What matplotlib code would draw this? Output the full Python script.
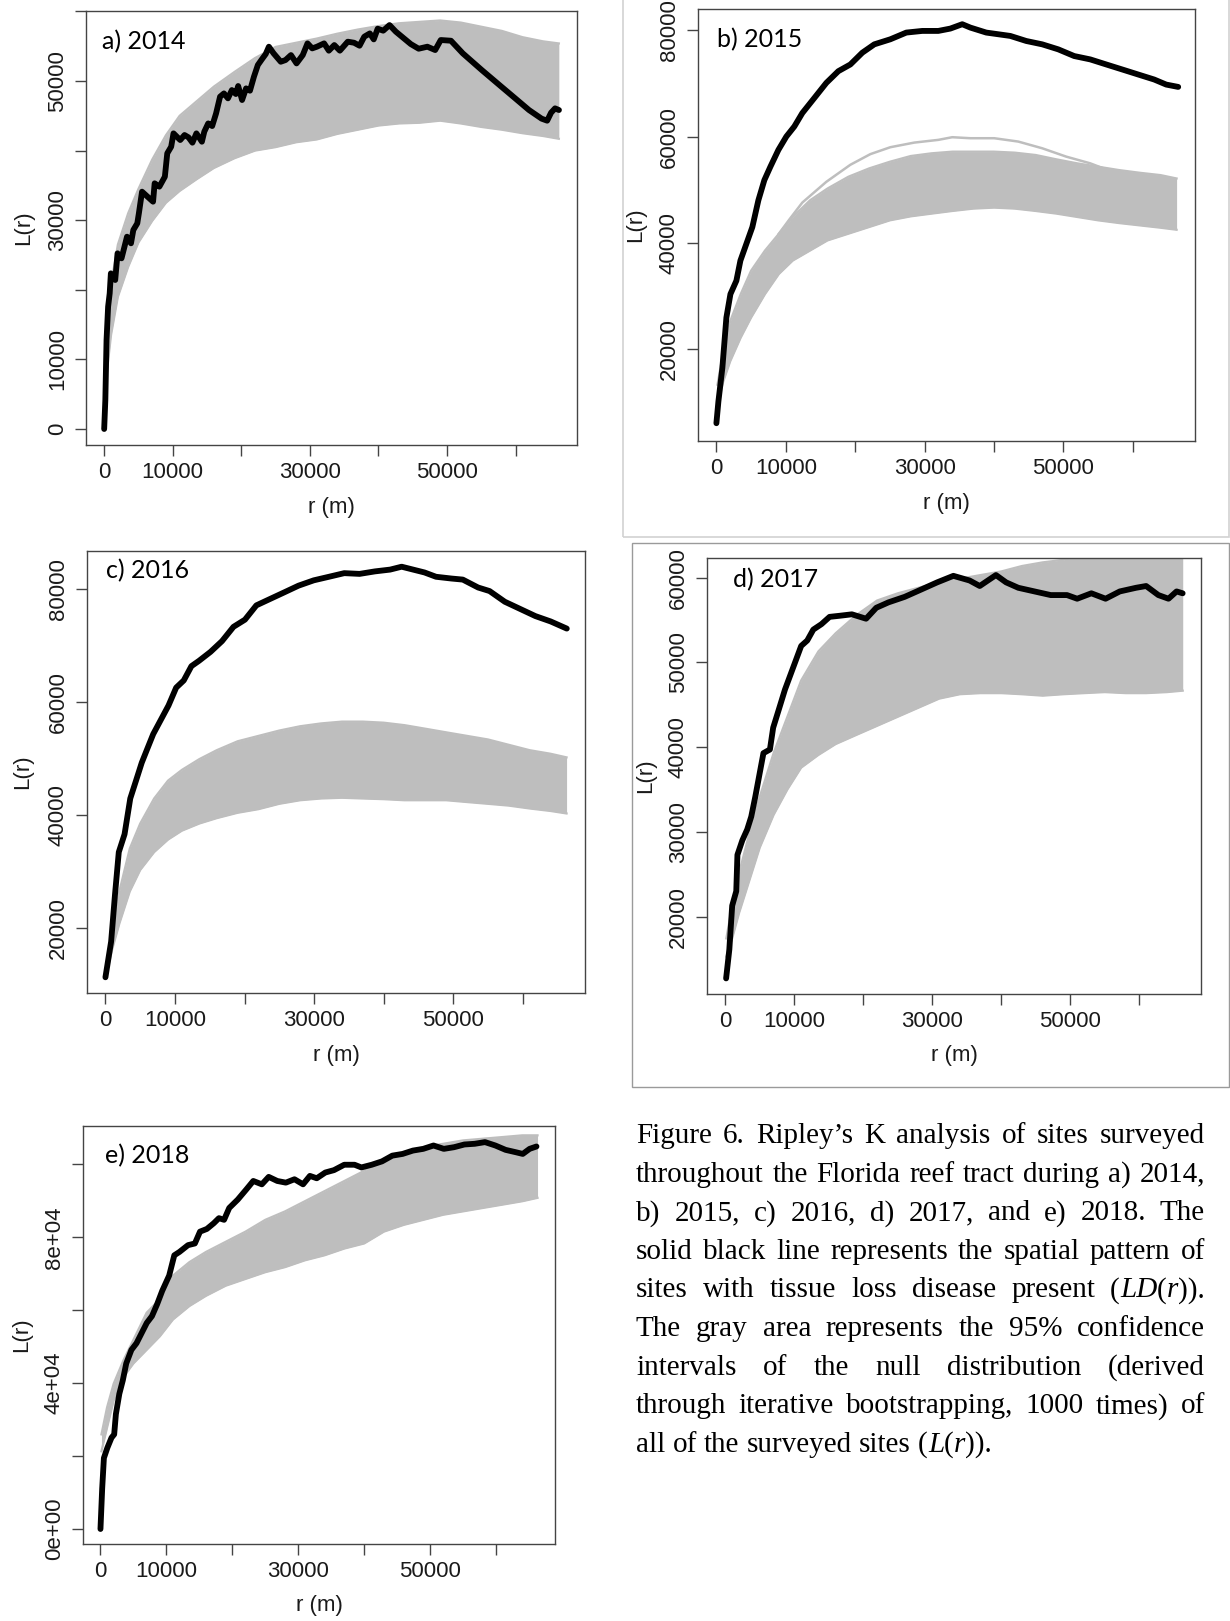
import matplotlib
matplotlib.use("Agg")
import matplotlib.pyplot as plt
from matplotlib.patches import Rectangle

W, H = 1230, 1621

# ---------------- data (r in metres, L(r)) ----------------
GRID = [150, 1000, 2000, 3500, 5000, 7000, 9000, 11000, 13500, 16000, 19000, 22000,
        25000, 28000, 31000, 34000, 37000, 40000, 43000, 46000, 49000, 52000, 55000,
        58000, 61000, 64000, 66300]

# panel a) 2014
A_UPPER = [13000, 20800, 26500, 31000, 34500, 38700, 42200, 45000, 47100, 49200, 51300, 53300,
           54900, 55500, 56100, 56800, 57400, 57900, 58300, 58500, 58700, 58400, 57800, 57200,
           56300, 55700, 55400]
A_LOWER = [6000, 13500, 19000, 23300, 26800, 29900, 32500, 34200, 35900, 37500, 38900, 40000,
           40500, 41200, 41600, 42400, 43000, 43600, 43900, 44000, 44300, 43900, 43400, 43000,
           42500, 42100, 41700]
A_R = [0, 170, 345, 575, 805, 977, 1610, 1950, 2530, 3330, 3910, 4250, 4830, 5060, 5520, 6320,
       7130, 7360, 8050, 8850, 9200, 9770, 10110, 11090, 11720, 12300, 12870, 13450, 14250, 14600,
       15170, 15750, 16320, 16900, 17470, 18050, 18620, 19200, 19540, 20110, 20690, 21260, 21840,
       22410, 22990, 23560, 24020, 24710, 25750, 26440, 27240, 28050, 28960, 29650, 30340, 31030,
       32070, 32760, 33560, 34370, 35520, 36440, 37240, 37930, 38740, 39310, 39880, 40690, 41610,
       42530, 44710, 45860, 47130, 48270, 49080, 50570, 52300, 55060, 57930, 59770, 61950, 63790,
       64600, 65170, 65750, 66320]
A_L = [0, 4170, 12790, 17580, 19490, 22360, 21410, 25240, 24520, 27630, 26680, 28590, 29550, 30980,
       34100, 33380, 32660, 35300, 34820, 36250, 39610, 40560, 42480, 41520, 42240, 41900, 41140,
       42480, 41280, 42720, 43910, 43530, 45350, 47750, 48220, 47510, 48700, 48130, 49280, 47270,
       48940, 48610, 50620, 52300, 53110, 53880, 54930, 53970, 52770, 53010, 53730, 52530, 53730,
       55410, 54690, 54930, 55410, 54360, 55170, 54360, 55650, 55500, 55070, 56370, 56840, 55980,
       57520, 57230, 58040, 57090, 55310, 54640, 54930, 54450, 55890, 55790, 53970, 51580, 49180,
       47650, 45830, 44590, 44300, 45450, 46070, 45830]

# panel b) 2015
B_UPPER = [13380, 19690, 25360, 30400, 34810, 38590, 41740, 44890, 48040, 50240, 52450, 54020,
           55280, 56350, 56860, 57170, 57170, 57170, 56980, 56540, 55720, 54970, 54340, 53710,
           53200, 52760, 52130]
B_LOWER = [9610, 14020, 17800, 22210, 25990, 30400, 34180, 36700, 38590, 40480, 41740, 43000,
           44260, 45010, 45520, 46020, 46460, 46650, 46460, 46020, 45520, 44890, 44260, 43750,
           43310, 42870, 42490]
B_OUT_R = [9000, 10500, 12380, 15840, 19300, 22180, 25060, 28510, 31970, 33980, 36580, 40030,
           43490, 46940, 50400, 53860, 56000]
B_OUT_L = [41740, 44400, 47600, 51500, 54700, 56700, 58000, 58870, 59380, 59880, 59690, 59690,
           59060, 57800, 56230, 54970, 53900]
B_R = [0, 290, 860, 1440, 2020, 2880, 3460, 4320, 5180, 6050, 6910, 7780, 8930, 10080, 11230,
       12380, 14110, 15840, 17570, 19300, 21020, 22750, 25060, 27360, 29660, 31970, 33700, 35420,
       36580, 38880, 42340, 44640, 46940, 49250, 51550, 53860, 56160, 58460, 60770, 63070, 64800,
       66530]
B_L = [6140, 10240, 16540, 25990, 30400, 32920, 36700, 39850, 43000, 48040, 51820, 54340, 57490,
       60010, 61900, 64420, 67250, 70090, 72290, 73550, 75760, 77330, 78280, 79540, 79850, 79850,
       80290, 81110, 80480, 79540, 78910, 77960, 77330, 76390, 75130, 74500, 73550, 72610, 71660,
       70720, 69770, 69330]

# panel c) 2016
C_UPPER = [13230, 19560, 26520, 34110, 38540, 42970, 46140, 48040, 49940, 51520, 53100, 54050,
           55000, 55760, 56260, 56580, 56580, 56390, 55950, 55320, 54680, 54050, 53420, 52470,
           51520, 50890, 50250]
C_LOWER = [11960, 16390, 20820, 26520, 30320, 33480, 35700, 37280, 38540, 39490, 40440, 41080,
           42030, 42660, 42970, 43100, 42970, 42850, 42660, 42660, 42660, 42340, 42030, 41710,
           41200, 40760, 40320]
C_R = [0, 820, 1370, 1920, 2750, 3570, 4400, 5220, 6040, 6870, 7970, 9070, 10170, 11260, 12360,
       13460, 15110, 16760, 18410, 20060, 21700, 23350, 25550, 27750, 29950, 32140, 34340, 36540,
       38740, 40940, 42590, 44230, 45880, 47530, 49730, 51380, 53580, 55230, 57420, 59620, 61820,
       64020, 66330]
C_L = [11330, 17660, 25890, 33480, 36650, 42970, 46140, 49300, 51830, 54370, 56900, 59430, 62590,
       63860, 66390, 67340, 68920, 70820, 73350, 74620, 77150, 78100, 79360, 80630, 81580, 82210,
       82850, 82720, 83160, 83480, 83990, 83480, 82970, 82210, 81900, 81710, 80310, 79680, 77790,
       76520, 75250, 74300, 73040]

# panel d) 2017
D_UPPER = [17430, 21290, 25140, 29860, 34150, 39290, 43580, 47870, 51300, 53440, 55580, 57300,
           58150, 58800, 59440, 59870, 60300, 60730, 61370, 61800, 62100, 62600, 63000, 63400,
           63700, 64000, 64200]
D_LOWER = [15280, 17430, 20430, 24290, 28150, 32000, 35000, 37580, 39080, 40360, 41440, 42510,
           43580, 44650, 45720, 46240, 46370, 46370, 46240, 46070, 46240, 46370, 46490, 46370,
           46370, 46490, 46660]
D_R = [120, 590, 1000, 1590, 1760, 2470, 3180, 3760, 4350, 4940, 5530, 6470, 6940, 7760, 8650,
       9530, 10120, 11000, 11880, 12760, 13940, 15120, 16590, 18350, 20410, 21880, 23650, 26000,
       28350, 30710, 33060, 35410, 36880, 38060, 39230, 40700, 42470, 44820, 47170, 49530, 51000,
       53060, 55120, 57180, 59530, 61000, 62770, 64240, 65410, 66290]
D_L = [12710, 16140, 21290, 23000, 27290, 29000, 30290, 31790, 34150, 36720, 39290, 39720, 42290,
       44440, 46790, 48720, 50010, 51940, 52580, 53870, 54510, 55370, 55500, 55670, 55150, 56440,
       57080, 57730, 58580, 59440, 60210, 59660, 59010, 59660, 60300, 59440, 58800, 58370, 57940,
       57940, 57510, 58150, 57510, 58370, 58800, 59010, 57940, 57510, 58370, 58150]

# panel e) 2018
E_UPPER = [25960, 33370, 39860, 46350, 51910, 59330, 63040, 69530, 73230, 76010, 78800, 81580,
           84820, 87140, 89920, 92700, 95480, 98260, 101510, 103360, 104750, 105680, 106610,
           107070, 107530, 108000, 108000]
E_LOWER = [21320, 27810, 35230, 41720, 45420, 49130, 52840, 57470, 61180, 63960, 66740, 68600,
           70450, 71840, 73700, 75090, 76940, 78330, 81580, 83430, 84820, 86210, 87140, 88070,
           88990, 89920, 90850]
E_R = [0, 260, 520, 1040, 1670, 2080, 2340, 2860, 3390, 3910, 4690, 5470, 6250, 7030, 7810, 8590,
       9370, 10420, 11200, 11980, 13280, 14320, 15100, 16140, 17190, 17970, 18750, 19530, 20830,
       22130, 23180, 24480, 25520, 26820, 28120, 29430, 30730, 31770, 32810, 34110, 35420, 36980,
       38540, 39580, 41150, 42710, 44270, 45830, 47400, 48960, 50520, 52080, 53650, 55210, 56770,
       58330, 59900, 61460, 63020, 64060, 65100, 66140]
E_L = [0, 11120, 19470, 22250, 25030, 25960, 31520, 37080, 40790, 45420, 49130, 50980, 53770,
       56550, 58400, 61650, 65350, 69530, 75090, 76010, 77870, 78330, 81580, 82320, 83890, 85280,
       84820, 88070, 90380, 93170, 95480, 94560, 96600, 95480, 95020, 95950, 94560, 96870, 96220,
       97800, 98450, 99930, 99930, 99190, 99930, 100860, 102430, 102900, 103820, 104290, 105210,
       104290, 104750, 105490, 105680, 106140, 105210, 104010, 103360, 102900, 104290, 104940]

TITLES = ["a) 2014", "b) 2015", "c) 2016", "d) 2017", "e) 2018"]
X_TICKS = [0, 10000, 20000, 30000, 40000, 50000, 60000]
X_TICKLABELS = ["0", "10000", "", "30000", "", "50000", ""]

CAPTION = [
    "Figure 6. Ripley’s K analysis of sites surveyed",
    "throughout the Florida reef tract during a) 2014,",
    "b) 2015, c) 2016, d) 2017, and e) 2018. The",
    "solid black line represents the spatial pattern of",
    "sites with tissue loss disease present (*LD*(*r*)).",
    "The gray area represents the 95% confidence",
    "intervals of the null distribution (derived",
    "through iterative bootstrapping, 1000 times) of",
    "all of the surveyed sites (*L*(*r*)).",
]

# ---------------- figure ----------------
fig = plt.figure(figsize=(W / 100, H / 100), dpi=100)
fig.patch.set_facecolor("white")

SANS = "Liberation Sans"
GRAY = "#BEBEBE"
AXC = "#444444"
TXT = "#1a1a1a"
FS = 16


def add_box(l, r, t, b):
    return fig.add_axes([l / W, 1 - b / H, (r - l) / W, (b - t) / H])


# frames around b and d
fig.add_artist(Rectangle((623 / W, 1 - 537 / H), (1229 - 623) / W, 540 / H,
                         transform=fig.transFigure, fill=False, ec="#D2D2D2", lw=1.2))
fig.add_artist(Rectangle((632 / W, 1 - 1087 / H), (1229 - 632) / W, (1087 - 543) / H,
                         transform=fig.transFigure, fill=False, ec="#9A9A9A", lw=1.0))

panels = [
    dict(box=(86, 577, 11, 445), ylim=(-2300, 60060),
         yt=[0, 10000, 20000, 30000, 40000, 50000, 60000],
         yl=["0", "10000", "", "30000", "", "50000", ""],
         tp=(0.033, 0.929), up=A_UPPER, lo=A_LOWER, r=A_R, L=A_L, ylab_x=24),
    dict(box=(698, 1195, 9, 441), ylim=(2800, 83970),
         yt=[20000, 40000, 60000, 80000], yl=["20000", "40000", "60000", "80000"],
         tp=(0.038, 0.928), up=B_UPPER, lo=B_LOWER, r=B_R, L=B_L, ylab_x=636),
    dict(box=(87, 585, 551, 993), ylim=(8550, 86770),
         yt=[20000, 40000, 60000, 80000], yl=["20000", "40000", "60000", "80000"],
         tp=(0.038, 0.955), up=C_UPPER, lo=C_LOWER, r=C_R, L=C_L, ylab_x=23),
    dict(box=(707, 1201, 558, 994), ylim=(10870, 62315),
         yt=[20000, 30000, 40000, 50000, 60000],
         yl=["20000", "30000", "40000", "50000", "60000"],
         tp=(0.053, 0.95), up=D_UPPER, lo=D_LOWER, r=D_R, L=D_L, ylab_x=646),
    dict(box=(83, 555, 1126, 1544), ylim=(-4115, 110560),
         yt=[0, 20000, 40000, 60000, 80000, 100000],
         yl=["0e+00", "", "4e+04", "", "8e+04", ""],
         tp=(0.047, 0.93), up=E_UPPER, lo=E_LOWER, r=E_R, L=E_L, ylab_x=22),
]

for i, p in enumerate(panels):
    l, r, t, b = p["box"]
    ax = add_box(l, r, t, b)
    ax.fill_between(GRID, p["lo"], p["up"], color=GRAY, lw=0, zorder=1)
    ax.plot(GRID, p["up"], color=GRAY, lw=1.6, zorder=1)
    ax.plot(GRID, p["lo"], color=GRAY, lw=1.6, zorder=1)
    if i == 1:
        ax.plot(B_OUT_R, B_OUT_L, color=GRAY, lw=1.8, zorder=1)
    ax.plot(p["r"], p["L"], color="black", lw=4.2, solid_joinstyle="round",
            solid_capstyle="round", zorder=3)
    ax.set_xlim(-2650, 68950)
    ax.set_ylim(*p["ylim"])
    ax.set_xticks(X_TICKS)
    ax.set_xticklabels(X_TICKLABELS, fontfamily=SANS, fontsize=FS, color=TXT)
    ax.set_yticks(p["yt"])
    ax.set_yticklabels(p["yl"], fontfamily=SANS, fontsize=FS, color=TXT,
                       rotation=90, va="center")
    ax.tick_params(direction="out", length=8, width=1.0, color=AXC, pad=4)
    ax.tick_params(axis="y", pad=5)
    for s in ax.spines.values():
        s.set_color(AXC)
        s.set_linewidth(1.0)
    ax.text(p["tp"][0], p["tp"][1], TITLES[i], transform=ax.transAxes, fontfamily="Lato",
            fontsize=18, ha="left", va="center", color="black")
    fig.text(p["ylab_x"] / W, 1 - ((t + b) / 2) / H, "L(r)", rotation=90, ha="center",
             va="center", fontfamily=SANS, fontsize=FS, color=TXT)
    fig.text(((l + r) / 2) / W, 1 - (b + 62) / H, "r (m)", ha="center", va="center",
             fontfamily=SANS, fontsize=FS, color=TXT)

# ---------------- caption (justified) ----------------
renderer = fig.canvas.get_renderer()
CAP_FONT = dict(fontfamily="Liberation Serif", fontsize=21, color="black")
CAP_LEFT, CAP_RIGHT = 636, 1205
BASE0, LEAD = 1143, 38.6


def parse_word(w):
    segs, ital, buf = [], False, ""
    for ch in w:
        if ch == "*":
            if buf:
                segs.append((buf, ital))
                buf = ""
            ital = not ital
        else:
            buf += ch
    if buf:
        segs.append((buf, ital))
    return segs


def seg_width(txt, ital):
    tt = fig.text(0, 0, txt, style="italic" if ital else "normal", **CAP_FONT)
    w = tt.get_window_extent(renderer).width
    tt.remove()
    return w


space_w = seg_width("a a", False) - 2 * seg_width("a", False)

for li, line in enumerate(CAPTION):
    words = [parse_word(w) for w in line.split(" ")]
    widths = [[seg_width(s, it) for s, it in wd] for wd in words]
    totals = [sum(ws) for ws in widths]
    if li < len(CAPTION) - 1 and len(words) > 1:
        gap = (CAP_RIGHT - CAP_LEFT - sum(totals)) / (len(words) - 1)
    else:
        gap = space_w
    x = CAP_LEFT
    yb = 1 - (BASE0 + li * LEAD) / H
    for wd, ws, tot in zip(words, widths, totals):
        xx = x
        for (s, it), sw in zip(wd, ws):
            fig.text(xx / W, yb, s, style="italic" if it else "normal", ha="left",
                     va="baseline", **CAP_FONT)
            xx += sw
        x += tot + gap

fig.savefig("out.png", dpi=100, facecolor="white")
